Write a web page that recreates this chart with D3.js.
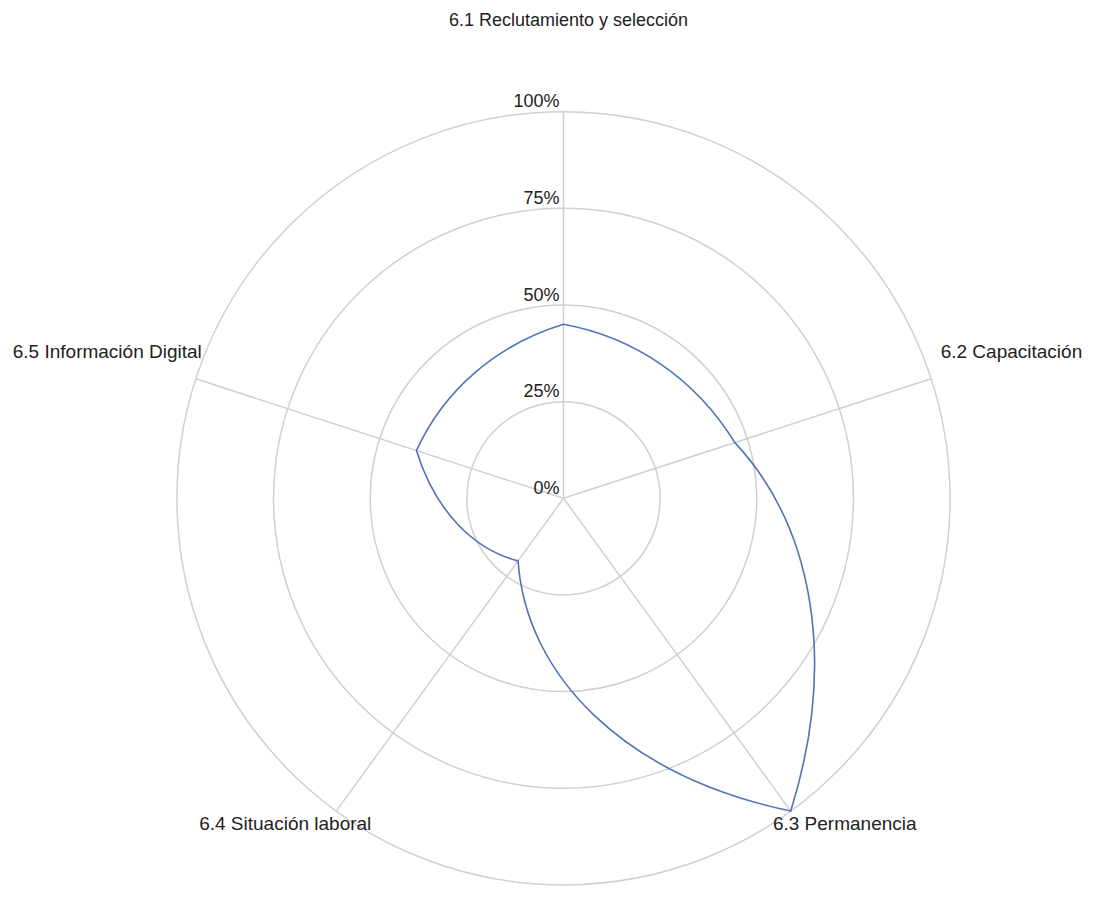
<!DOCTYPE html>
<html>
<head>
<meta charset="utf-8">
<script src="https://cdn.jsdelivr.net/npm/d3@7"></script>
<style>
  html, body { margin: 0; padding: 0; background: #ffffff; }
  svg { display: block; }
  text { font-family: "Liberation Sans", Arial, Helvetica, sans-serif; fill: #222; }
</style>
</head>
<body>
<svg id="chart" width="1096" height="897"></svg>
<script>
const categories = ["6.1 Reclutamiento y selección", "6.2 Capacitación", "6.3 Permanencia", "6.4 Situación laboral", "6.5 Información Digital"];
const values = [45, 46.6, 100, 20, 40];
const tickValues = [0, 25, 50, 75, 100];
const tickLabels = ["0%", "25%", "50%", "75%", "100%"];

const W = 1096, H = 897;
const cx = 563.5, cy = 498.3, R = 386.6;
const svg = d3.select("#chart");

const rScale = d3.scaleLinear().domain([0, 100]).range([0, R]);
const aScale = d3.scaleLinear().domain([0, categories.length]).range([0, 2 * Math.PI]);

function pt(angle, radius) {
  return [cx + radius * Math.sin(angle), cy - radius * Math.cos(angle)];
}

const g = svg.append("g");

// grid circles
g.selectAll("circle.grid")
  .data(tickValues.filter(v => v > 0))
  .join("circle")
  .attr("class", "grid")
  .attr("cx", cx).attr("cy", cy)
  .attr("r", d => rScale(d))
  .attr("fill", "none")
  .attr("stroke", "#d0d0d0")
  .attr("stroke-width", 1.5);

// spokes
g.selectAll("line.spoke")
  .data(categories)
  .join("line")
  .attr("class", "spoke")
  .attr("x1", cx).attr("y1", cy)
  .attr("x2", (d, i) => pt(aScale(i), R)[0])
  .attr("y2", (d, i) => pt(aScale(i), R)[1])
  .attr("stroke", "#d0d0d0")
  .attr("stroke-width", 1.5);

// tick labels
g.selectAll("text.tick")
  .data(tickValues)
  .join("text")
  .attr("class", "tick")
  .attr("x", cx - 4)
  .attr("y", d => cy - rScale(d) - 4.5)
  .attr("text-anchor", "end")
  .attr("font-size", 18)
  .text((d, i) => tickLabels[i]);

// data line: each segment curved in polar space (cubic bezier through polar-linear thirds)
const path = d3.path();
const n = values.length;
for (let i = 0; i < n; i++) {
  const a0 = aScale(i), a1 = aScale(i + 1);
  const r0 = rScale(values[i]), r1 = rScale(values[(i + 1) % n]);
  const p0 = pt(a0, r0);
  const c1 = pt(a0 + (a1 - a0) / 3, r0 + (r1 - r0) / 3);
  const c2 = pt(a0 + 2 * (a1 - a0) / 3, r0 + 2 * (r1 - r0) / 3);
  const p1 = pt(a1, r1);
  if (i === 0) path.moveTo(p0[0], p0[1]);
  path.bezierCurveTo(c1[0], c1[1], c2[0], c2[1], p1[0], p1[1]);
}
path.closePath();
g.append("path")
  .attr("d", path.toString())
  .attr("fill", "none")
  .attr("stroke", "#4f74b8")
  .attr("stroke-width", 1.6)
  .attr("stroke-linejoin", "miter");

// category labels
const labelLayout = [
  { dx: 5, dy: -86, anchor: "middle" },
  { dx: 9.5, dy: -21, anchor: "start" },
  { dx: 54, dy: 19, anchor: "middle" },
  { dx: -51, dy: 19, anchor: "middle" },
  { dx: 6, dy: -21, anchor: "end" }
];
g.selectAll("text.cat")
  .data(categories)
  .join("text")
  .attr("class", "cat")
  .attr("x", (d, i) => pt(aScale(i), R)[0] + labelLayout[i].dx)
  .attr("y", (d, i) => pt(aScale(i), R)[1] + labelLayout[i].dy)
  .attr("text-anchor", (d, i) => labelLayout[i].anchor)
  .attr("font-size", (d, i) => i === 0 ? 18 : 19)
  .text(d => d);
</script>
</body>
</html>
